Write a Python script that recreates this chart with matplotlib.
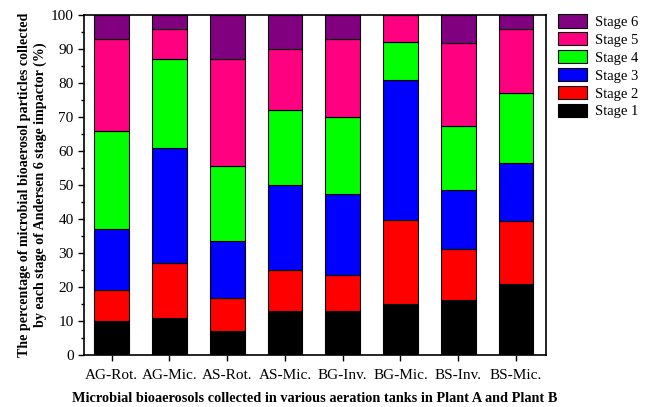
import matplotlib
matplotlib.use("Agg")
import matplotlib.pyplot as plt
import numpy as np
from matplotlib.ticker import MultipleLocator

categories = ["AG-Rot.", "AG-Mic.", "AS-Rot.", "AS-Mic.", "BG-Inv.", "BG-Mic.", "BS-Inv.", "BS-Mic."]
stage1 = [10, 11, 7, 13, 12.8, 15, 16.2, 20.8]
stage2 = [9, 16, 9.8, 12, 10.8, 24.8, 14.9, 18.7]
stage3 = [18, 34, 16.8, 25, 23.9, 41.2, 17.3, 16.9]
stage4 = [29, 26, 21.9, 22, 22.6, 11, 19.1, 20.6]
stage5 = [27, 9, 31.5, 18, 22.8, 8, 24.4, 18.9]
stage6 = [7, 4, 13, 10, 7.1, 0, 8.1, 4.1]
stage_names = ["Stage 1", "Stage 2", "Stage 3", "Stage 4", "Stage 5", "Stage 6"]
colors = ["#000000", "#FF0000", "#0000FF", "#00FF00", "#FF0080", "#800080"]

plt.rcParams['font.family'] = ['Liberation Serif', 'DejaVu Serif']

fig = plt.figure(figsize=(6.5, 4.07), dpi=100)
ax = fig.add_axes([84/650, 1-355/407, (546-84)/650, (355-15)/407])

x = np.arange(len(categories))
bottom = np.zeros(len(categories))
handles = []
for vals, name, c in zip([stage1, stage2, stage3, stage4, stage5, stage6], stage_names, colors):
    v = np.array(vals, dtype=float)
    b = ax.bar(x, v, width=0.6, bottom=bottom, color=c, edgecolor="black", linewidth=0.8, label=name)
    handles.append(b)
    bottom += v

ax.set_xlim(-0.48, 7.52)
ax.set_ylim(0, 100)
ax.set_xticks(x)
ax.set_xticklabels(categories, fontsize=11)
ax.yaxis.set_major_locator(MultipleLocator(10))
ax.yaxis.set_minor_locator(MultipleLocator(5))
ax.tick_params(axis='y', labelsize=11, direction='out', length=4, width=1)
ax.tick_params(axis='y', which='minor', length=2.5, width=1)
ax.tick_params(axis='x', direction='out', length=4, width=1, pad=6)
for s in ax.spines.values():
    s.set_linewidth(1.2)

ax.set_ylabel("The percentage of microbial bioaerosol particles collected\nby each stage of Andersen 6 stage impactor (%)",
              fontsize=10.1, fontweight='bold', linespacing=1.2, labelpad=3)
ax.set_xlabel("Microbial bioaerosols collected in various aeration tanks in Plant A and Plant B",
              fontsize=10.3, fontweight='bold', labelpad=7)

leg = ax.legend(handles[::-1], stage_names[::-1], loc='upper left',
                frameon=False, fontsize=10.5, handlelength=2.0, handleheight=1.05,
                labelspacing=0.22, handletextpad=0.55, borderpad=0, borderaxespad=0)
leg.set_bbox_to_anchor((1.026, 1.003), transform=ax.transAxes)

fig.savefig("out.png", dpi=100)
